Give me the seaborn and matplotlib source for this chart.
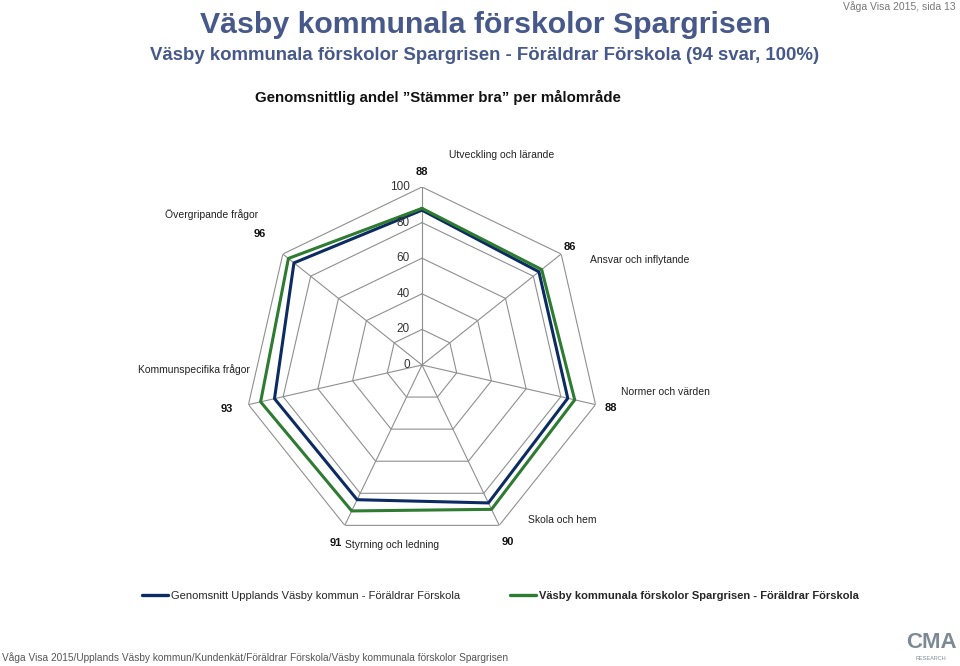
import numpy as np
import pandas as pd
import matplotlib
matplotlib.use("Agg")
import matplotlib.pyplot as plt
import seaborn as sns
from matplotlib.lines import Line2D

categories = ["Utveckling och lärande", "Ansvar och inflytande", "Normer och värden",
              "Skola och hem", "Styrning och ledning", "Kommunspecifika frågor",
              "Övergripande frågor"]
kommun = [87, 84, 84, 86, 84, 85, 92]
spargrisen = [88, 86, 88, 90, 91, 93, 96]
rings = [0, 20, 40, 60, 80, 100]
series_names = ["Genomsnitt Upplands Väsby kommun - Föräldrar Förskola",
                "Väsby kommunala förskolor Spargrisen - Föräldrar Förskola"]

navy = "#0d2b63"
green = "#2e7b32"
grid_col = "#8f8f8f"
title_col = "#47598a"

sns.set_theme(style="white")
plt.rcParams["font.family"] = ["Liberation Sans", "DejaVu Sans"]

n = len(categories)
theta = np.arange(n) * 2 * np.pi / n
theta_closed = np.append(theta, 2 * np.pi)

rows = []
for name, vals in zip(series_names, [kommun, spargrisen]):
    for t, v in zip(theta_closed, vals + vals[:1]):
        rows.append({"series": name, "theta": t, "value": v})
df = pd.DataFrame(rows)

fig = plt.figure(figsize=(9.6, 6.66), dpi=100)
ax = fig.add_axes([244 / 960, 123 / 666, 356 / 960, 356 / 666], projection="polar")
ax.set_theta_zero_location("N")
ax.set_theta_direction(-1)
ax.set_ylim(0, 100)
ax.grid(False)
ax.set_xticks([])
ax.set_yticks([])
ax.spines["polar"].set_visible(False)
ax.patch.set_alpha(0)

# heptagon grid and spokes
for r in rings[1:]:
    ax.plot(theta_closed, [r] * (n + 1), color=grid_col, lw=0.8, zorder=1)
for t in theta:
    ax.plot([t, t], [0, 100], color=grid_col, lw=0.8, zorder=1)

sns.lineplot(data=df, x="theta", y="value", hue="series", sort=False,
             palette=[navy, green], linewidth=2.2, legend=False, ax=ax, zorder=3)
ax.set_xlabel("")
ax.set_ylabel("")
ax.set_ylim(0, 100)

# ring tick labels
for r in rings:
    ax.annotate(str(r), xy=(0, r), xytext=(-12, 0), textcoords="offset pixels",
                ha="right", va="center", fontsize=8.5, color="#333333")

# category labels (offsets in pixels from outer vertex)
cat_off = [(80, 32), (79, -6), (70, 13), (63, 5), (47, -20), (-55, 35), (-71, 39)]
for t, lab, off in zip(theta, categories, cat_off):
    ax.annotate(lab, xy=(t, 100), xytext=off, textcoords="offset pixels",
                ha="center", va="center", fontsize=7.5, color="#222222")

val_off = [(0, 15), (9, 7), (15, -3), (9, -17), (-9, -18), (-22, -4), (-23, 20)]
for t, v, off in zip(theta, spargrisen, val_off):
    ax.annotate(str(v), xy=(t, 100), xytext=off, textcoords="offset pixels",
                ha="center", va="center", fontsize=8, fontweight="bold", color="#111111")

fig.text(485 / 960, 1 - 25 / 666, "Väsby kommunala förskolor Spargrisen", ha="center",
         va="center", fontsize=21.8, fontweight="bold", color=title_col)
fig.text(485 / 960, 1 - 56 / 666,
         "Väsby kommunala förskolor Spargrisen - Föräldrar Förskola (94 svar, 100%)",
         ha="center", va="center", fontsize=13.4, fontweight="bold", color=title_col)
fig.text(438 / 960, 1 - 97 / 666, "Genomsnittlig andel ”Stämmer bra” per målområde",
         ha="center", va="center", fontsize=10.8, fontweight="bold", color="#111111")
fig.text(956 / 960, 1 - 7 / 666, "Våga Visa 2015, sida 13", ha="right", va="center",
         fontsize=7.5, color="#777777")
fig.text(2 / 960, 1 - 658 / 666,
         "Våga Visa 2015/Upplands Väsby kommun/Kundenkät/Föräldrar Förskola/Väsby kommunala förskolor Spargrisen",
         ha="left", va="center", fontsize=7.3, color="#555555")
fig.text(931 / 960, 1 - 643 / 666, "CMA", ha="center", va="center", fontsize=16,
         fontweight="bold", color="#7d8a96")
fig.text(931 / 960, 1 - 658 / 666, "RESEARCH", ha="center", va="center", fontsize=4,
         color="#7d8a96")

handles = [Line2D([0], [0], color=navy, lw=2.4), Line2D([0], [0], color=green, lw=2.4)]
leg = fig.legend(handles, series_names, loc="center", bbox_to_anchor=(500 / 960, 1 - 596 / 666),
                 ncol=2, frameon=False, fontsize=8, handlelength=2.4, handletextpad=0.2,
                 columnspacing=4.5)
leg.get_texts()[1].set_fontweight("bold")

fig.savefig("out.png", dpi=100)
